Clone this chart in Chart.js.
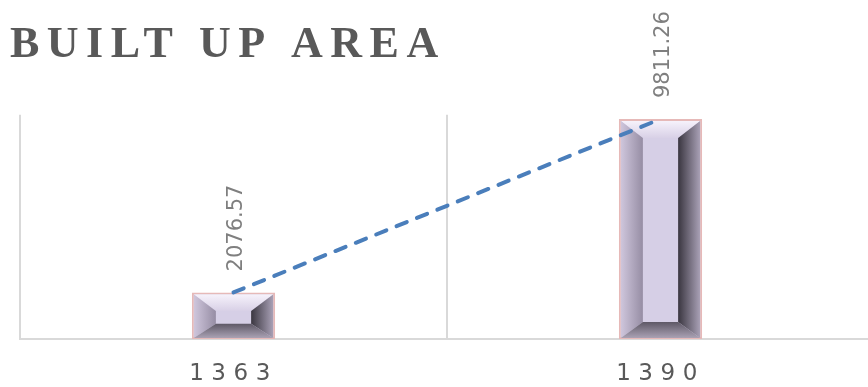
<!DOCTYPE html>
<html>
<head>
<meta charset="utf-8">
<script src="https://cdn.jsdelivr.net/npm/chart.js@4.4.0/dist/chart.umd.min.js"></script>
<style>
  html, body { margin: 0; padding: 0; background: #fff; overflow: hidden; }
  #wrap { width: 874px; height: 387px; position: relative; }
</style>
</head>
<body>
<div id="wrap"><canvas id="grafico-area"></canvas></div>
<script>
// Datos del gráfico
const years = ["1363", "1390"];
const builtUp = [2076.57, 9811.26];
const yMax = 10000;

// espaciado de letras: titulo antes, eje x despues de las series
const spacing = {
  id: "spacing",
  beforeDraw(chart) {
    chart.ctx.letterSpacing = "7.5px";
  },
};

// efecto biselado sobre las barras
const bevelBars = {
  id: "bevelBars",
  afterDatasetDraw(chart, args) {
    if (args.meta.type !== "bar") return;
    const ctx = chart.ctx;
    args.meta.data.forEach((bar) => {
      const p = bar.getProps(["x", "y", "base", "width"], true);
      const l = p.x - p.width / 2 + 2;
      const r = p.x + p.width / 2 - 2;
      const t = p.y + 2;
      const b = p.base - 1;
      const h = b - t;
      const bt = Math.min(17, h * 0.38);
      const bb = Math.min(16, h * 0.33);
      const bs = Math.min(22, (r - l) * 0.3);
      const il = l + bs, ir = r - bs, it = t + bt, ib = b - bb;

      const quad = (pts, g) => {
        ctx.beginPath();
        ctx.moveTo(pts[0][0], pts[0][1]);
        for (let i = 1; i < pts.length; i++) ctx.lineTo(pts[i][0], pts[i][1]);
        ctx.closePath();
        ctx.fillStyle = g;
        ctx.fill();
      };
      const grad = (x0, y0, x1, y1, c0, c1) => {
        const g = ctx.createLinearGradient(x0, y0, x1, y1);
        g.addColorStop(0, c0);
        g.addColorStop(1, c1);
        return g;
      };

      ctx.save();
      // arriba
      quad([[l, t], [r, t], [ir, it], [il, it]], grad(0, t, 0, it, "#f6f2fb", "#d8d0e6"));
      // izquierda
      quad([[l, t], [il, it], [il, ib], [l, b]], grad(l, 0, il, 0, "#cfc6dc", "#968da4"));
      // derecha
      quad([[r, t], [r, b], [ir, ib], [ir, it]], grad(r, 0, ir, 0, "#a9a1b6", "#3a3640"));
      // abajo
      quad([[l, b], [il, ib], [ir, ib], [r, b]], grad(0, ib, 0, b, "#5e5866", "#aaa2b4"));
      ctx.restore();
    });
  },
};

// valores girados encima de las barras
const valueLabels = {
  id: "valueLabels",
  afterDatasetsDraw(chart) {
    const ctx = chart.ctx;
    const meta = chart.getDatasetMeta(0);
    meta.data.forEach((bar, i) => {
      ctx.save();
      ctx.letterSpacing = "0px";
      ctx.font = "21px 'DejaVu Sans'";
      ctx.fillStyle = "#7f7f7f";
      ctx.textAlign = "left";
      ctx.textBaseline = "middle";
      ctx.translate(bar.x + 3, bar.y - 21);
      ctx.rotate(-Math.PI / 2);
      ctx.fillText(String(builtUp[i]), 0, 0);
      ctx.restore();
    });
    // para las etiquetas del eje x (capa z 1)
    ctx.letterSpacing = "6px";
  },
};

const myChart = document.getElementById("grafico-area");

new Chart(myChart, {
  type: "bar",
  data: {
    labels: years,
    datasets: [
      {
        label: "Built up area",
        data: builtUp,
        backgroundColor: "#d6cfe6",
        borderColor: "#e6b9b8",
        borderWidth: 2,
        borderSkipped: false,
        categoryPercentage: 1,
        barPercentage: 0.195,
        order: 1,
      },
      {
        type: "line",
        label: "Trend",
        data: builtUp,
        borderColor: "#4a7ebb",
        borderWidth: 4,
        borderDash: [11, 11],
        borderCapStyle: "round",
        pointRadius: 0,
        fill: false,
        order: 0,
      },
    ],
  },
  options: {
    responsive: true,
    maintainAspectRatio: false,
    animation: false,
    layout: {
      padding: { left: 10, right: 0, top: 0, bottom: 0 },
    },
    scales: {
      x: {
        z: 1,
        grid: {
          color: "#d9d9d9",
          lineWidth: 2,
          drawTicks: false,
          offset: true,
        },
        border: { color: "#d9d9d9", width: 2 },
        ticks: {
          padding: 21,
          color: "#595959",
          font: { family: "'DejaVu Sans'", size: 23 },
        },
        afterFit: (scale) => {
          scale.height = 48;
        },
      },
      y: {
        min: 0,
        max: yMax,
        ticks: { display: false },
        grid: { display: false },
        border: { display: false },
        afterFit: (scale) => {
          scale.width = 10;
        },
      },
    },
    plugins: {
      legend: { display: false },
      tooltip: { enabled: false },
      title: {
        display: true,
        text: "BUILT UP AREA",
        align: "start",
        color: "#595959",
        font: { family: "'Liberation Serif'", size: 44, weight: "bold" },
        padding: { top: 19, bottom: 43 },
      },
    },
  },
  plugins: [spacing, bevelBars, valueLabels],
});
</script>
</body>
</html>
